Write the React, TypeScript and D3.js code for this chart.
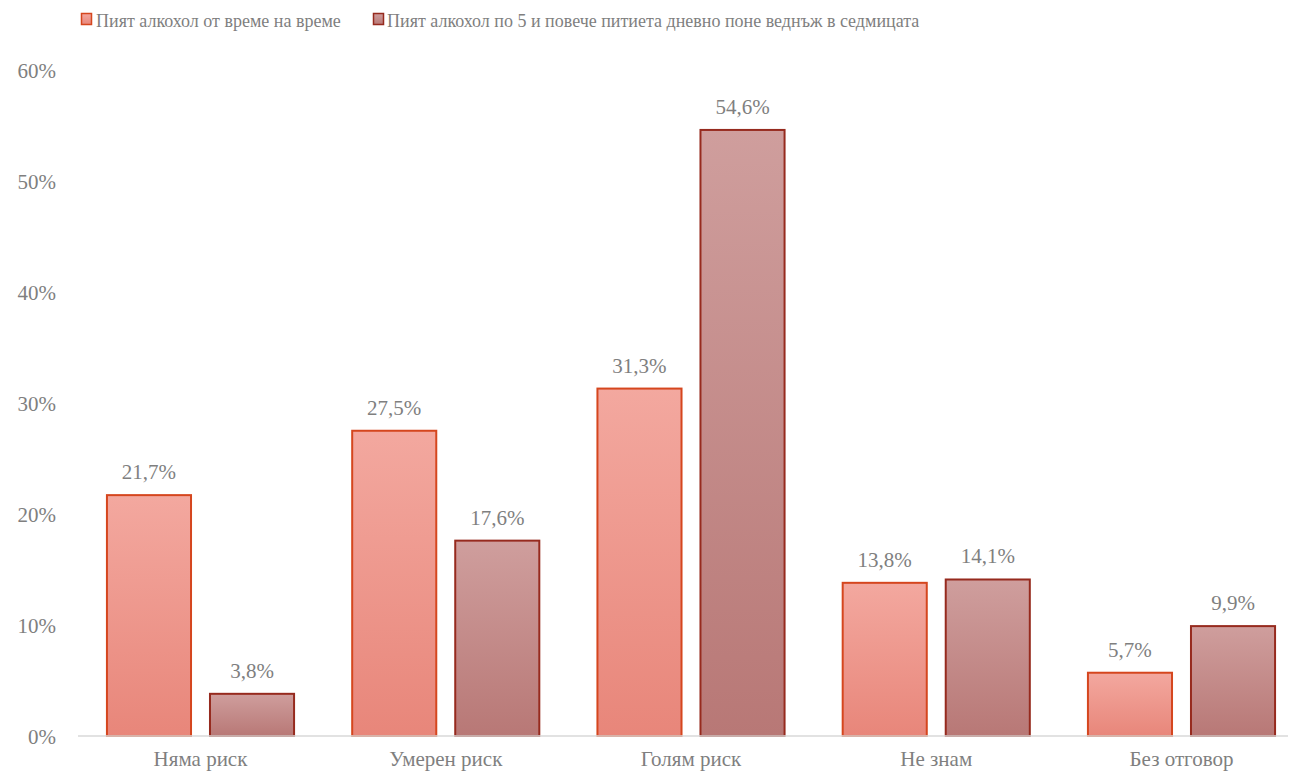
import React from "react";
import * as d3 from "d3";

const categories = ["Няма риск", "Умерен риск", "Голям риск", "Не знам", "Без отговор"];
const seriesNames = [
  "Пият алкохол от време на време",
  "Пият алкохол по 5 и повече питиета дневно поне веднъж в седмицата",
];
const series1 = [21.7, 27.5, 31.3, 13.8, 5.7];
const series2 = [3.8, 17.6, 54.6, 14.1, 9.9];
const yTicks = [0, 10, 20, 30, 40, 50, 60];

const W = 1296;
const H = 776;
const margin = { left: 78, top: 70, bottom: 40 };
const fills = ["url(#g1)", "url(#g2)"];
const strokes = ["#d5461e", "#962a1e"];
const textColor = "#7f7f7f";
const FONT = "Liberation Serif, Times New Roman, serif";

function T({ x, y, size, anchor, children }) {
  return (
    <text
      x={x}
      y={y}
      textAnchor={anchor || "start"}
      fontFamily={FONT}
      fontSize={size}
      fill={textColor}
    >
      {children}
    </text>
  );
}

export default function App() {
  const x0 = d3
    .scaleBand()
    .domain(categories)
    .range([margin.left, 1304])
    .paddingInner(0.237)
    .paddingOuter(0.118);
  const keys = ["s1", "s2"];
  const x1 = d3.scaleBand().domain(keys).range([0, x0.bandwidth()]).paddingInner(0.184);
  const y = d3.scaleLinear().domain([0, 60]).range([H - margin.bottom, margin.top]);
  const data = [series1, series2];
  const fmt = (v) => v.toFixed(1).replace(".", ",") + "%";

  return (
    <svg width={W} height={H} style={{ display: "block", marginTop: -8, marginLeft: -8 }}>
      <defs>
        <linearGradient id="g1" x1="0" y1="0" x2="0" y2="1">
          <stop offset="0" stopColor="#f3a89f" />
          <stop offset="1" stopColor="#e8867a" />
        </linearGradient>
        <linearGradient id="g2" x1="0" y1="0" x2="0" y2="1">
          <stop offset="0" stopColor="#cf9e9d" />
          <stop offset="1" stopColor="#b87876" />
        </linearGradient>
      </defs>
      <rect x={81.5} y={13.5} width={10} height={11} fill="url(#g1)" stroke={strokes[0]} strokeWidth={1.5} />
      <T x={96} y={26.5} size={18}>{seriesNames[0]}</T>
      <rect x={373.5} y={13.5} width={10} height={11} fill="url(#g2)" stroke={strokes[1]} strokeWidth={1.5} />
      <T x={387} y={26.5} size={18}>{seriesNames[1]}</T>
      {yTicks.map((t) => (
        <T key={t} x={56} y={y(t) + 7.5} size={21} anchor="end">
          {t}%
        </T>
      ))}
      {categories.map((c, i) => (
        <g key={c}>
          {data.map((s, k) => {
            const bx = x0(c) + x1(keys[k]);
            const bw = x1.bandwidth();
            const by = y(s[i]);
            const bh = y(0) - by;
            return (
              <g key={k}>
                <rect x={bx} y={by} width={bw} height={bh} fill={fills[k]} stroke={strokes[k]} strokeWidth={2} />
                <T x={bx + bw / 2} y={by - 16} size={21} anchor="middle">
                  {fmt(s[i])}
                </T>
              </g>
            );
          })}
          <T x={x0(c) + x0.bandwidth() / 2} y={766} size={21} anchor="middle">
            {c}
          </T>
        </g>
      ))}
      <line x1={margin.left} x2={W} y1={y(0)} y2={y(0)} stroke="#d9d9d9" strokeWidth={1.5} />
    </svg>
  );
}
